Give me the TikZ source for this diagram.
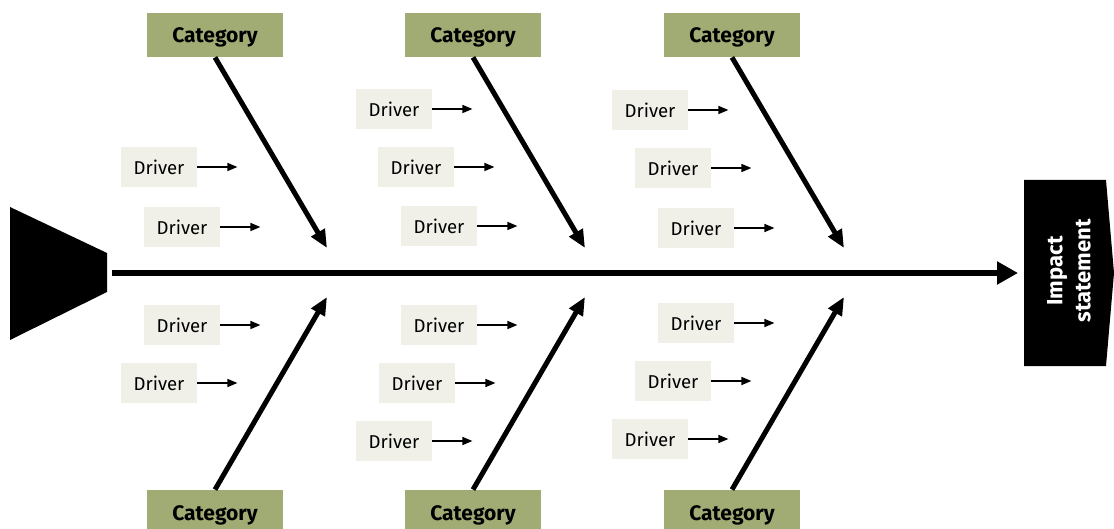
\documentclass[tikz,border=0pt]{standalone}
\usepackage{fontspec}
\setmainfont{Fira Sans}
\usetikzlibrary{arrows.meta}
\definecolor{catgreen}{RGB}{161,172,117}
\definecolor{drvgray}{RGB}{240,240,233}

\begin{document}
\begin{tikzpicture}[x=0.5pt,y=-0.5pt,
    cat/.style={fill=catgreen,minimum width=68pt,minimum height=22pt,inner sep=0pt,text height=8pt,text depth=0pt,font=\fontsize{10.5}{12}\selectfont\bfseries},
    driver/.style={fill=drvgray,minimum width=38pt,minimum height=20pt,inner sep=0pt,font=\fontsize{9.3}{11}\selectfont},
    bone/.style={line width=2.5pt,-{Triangle[length=9pt,width=7.5pt]}},
    drvarrow/.style={line width=0.75pt,-{Triangle[length=5pt,width=4pt]}}]
    \useasboundingbox (0,0) rectangle (1114,529);
    % fish tail and head
    \fill (10,207) -- (107,253) -- (107,292) -- (10,340) -- cycle;
    \fill (1024,180) -- (1106,180) -- (1114,273) -- (1106,366) -- (1024,366) -- cycle;
    \node[text=white,rotate=90,align=center,font=\fontsize{11}{14}\selectfont\bfseries] (impact) at (1069,271) {Impact\\statement};
    \coordinate (tail) at (112,273);
    \coordinate (head) at (1018,273);
    \draw[line width=3pt,-{Triangle[length=10.5pt,width=11pt]}] (tail) -- (head);
    % categories and bones
    \foreach \n/\cx in {a/215,b/473,c/732} {
      \node[cat] (top\n) at (\cx,35) {Category};
      \node[cat] (bot\n) at (\cx,512) {Category};
      \coordinate (tb\n) at (\cx+112,248);
      \coordinate (bb\n) at (\cx+112,297);
      \draw[bone] (top\n.south) -- (tb\n);
      \draw[bone] (bot\n.north) -- (bb\n);
    }
    % drivers
    \foreach \i/\x/\y in {1/159/167,2/182/227,3/394/109,4/416/167,5/439/226,
      6/650/110,7/673/168,8/696/228,9/182/325,10/159/383,11/439/325,
      12/417/383,13/394/441,14/696/323,15/673/381,16/650/439} {
      \node[driver] (d\i) at (\x,\y) {Driver};
      \path (d\i.east) ++(40,0) coordinate (t\i);
      \draw[drvarrow] (d\i) -- (t\i);
    }
\end{tikzpicture}
\end{document}
